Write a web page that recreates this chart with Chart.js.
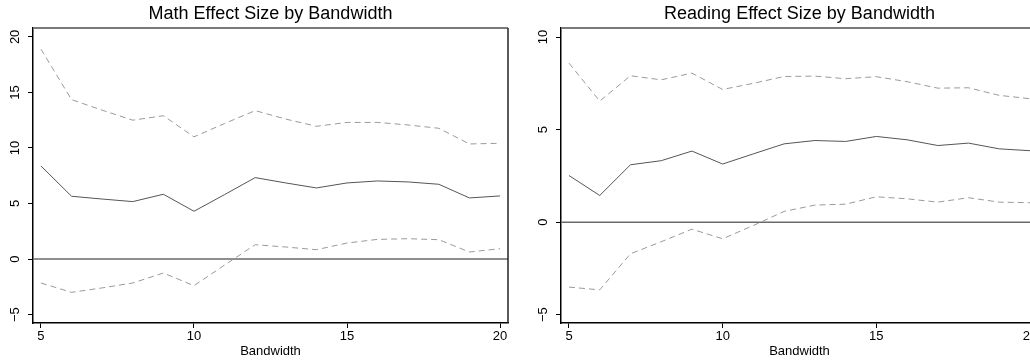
<!DOCTYPE html>
<html>
<head>
<meta charset="utf-8">
<script src="https://cdn.jsdelivr.net/npm/chart.js@4.4.1/dist/chart.umd.min.js"></script>
<style>
  html, body { margin: 0; padding: 0; background: #fff; overflow: hidden; width: 1030px; height: 364px; }
  canvas { position: absolute; top: 0; }
  #math-canvas { left: 0; }
  #read-canvas { left: 520px; }
</style>
</head>
<body>
<canvas id="math-canvas" width="520" height="364"></canvas>
<canvas id="read-canvas" width="530" height="364"></canvas>
<script>
const bandwidth = [5, 6, 7, 8, 9, 10, 11, 12, 13, 14, 15, 16, 17, 18, 19, 20];

const mathEst = [8.38, 5.65, 5.4, 5.17, 5.83, 4.3, 5.8, 7.33, 6.85, 6.4, 6.85, 7.03, 6.94, 6.73, 5.5, 5.68];
const mathHi = [18.9, 14.35, 13.4, 12.5, 12.9, 11.0, 12.2, 13.36, 12.6, 11.95, 12.3, 12.3, 12.07, 11.77, 10.36, 10.42];
const mathLo = [-2.16, -3.0, -2.6, -2.16, -1.26, -2.4, -0.54, 1.29, 1.08, 0.84, 1.44, 1.77, 1.83, 1.74, 0.63, 0.93];

const readEst = [2.52, 1.44, 3.1, 3.32, 3.84, 3.14, 3.69, 4.23, 4.41, 4.36, 4.63, 4.45, 4.14, 4.27, 3.96, 3.86];
const readHi = [8.59, 6.54, 7.91, 7.69, 8.05, 7.17, 7.5, 7.87, 7.89, 7.75, 7.86, 7.59, 7.24, 7.26, 6.85, 6.67];
const readLo = [-3.51, -3.66, -1.71, -1.06, -0.38, -0.9, -0.18, 0.58, 0.92, 0.97, 1.37, 1.26, 1.08, 1.32, 1.08, 1.05];

const xTicks = [5, 10, 15, 20];
const mathYTicks = [-5, 0, 5, 10, 15, 20];
const readYTicks = [-5, 0, 5, 10];

const FONT = '"Liberation Sans", Arial, Helvetica, sans-serif';

function points(values) {
  return bandwidth.map((b, i) => ({ x: b, y: values[i] }));
}

// zero line, plot frame, title and the rotated y labels (Stata look)
const stataDecor = {
  id: 'stataDecor',
  beforeDatasetsDraw(chart) {
    const { ctx, chartArea, scales } = chart;
    const y0 = scales.y.getPixelForValue(0);
    ctx.save();
    ctx.strokeStyle = '#6a6a6a';
    ctx.lineWidth = 1.5;
    ctx.beginPath();
    ctx.moveTo(chartArea.left, y0);
    ctx.lineTo(chartArea.right, y0);
    ctx.stroke();
    ctx.restore();
  },
  afterDraw(chart, args, opts) {
    const { ctx, chartArea, scales } = chart;
    ctx.save();
    ctx.strokeStyle = '#7a7a7a';
    ctx.lineWidth = 2;
    ctx.beginPath();
    ctx.moveTo(chartArea.left, chartArea.top);
    ctx.lineTo(chartArea.right, chartArea.top);
    ctx.stroke();
    ctx.strokeStyle = '#222';
    ctx.lineWidth = 1.5;
    ctx.beginPath();
    ctx.moveTo(chartArea.right, chartArea.top);
    ctx.lineTo(chartArea.right, chartArea.bottom);
    ctx.stroke();

    ctx.fillStyle = '#000';
    ctx.font = '18px ' + FONT;
    ctx.textAlign = 'center';
    ctx.textBaseline = 'alphabetic';
    ctx.fillText(opts.title, (chartArea.left + chartArea.right) / 2, 19);

    ctx.font = '13px ' + FONT;
    ctx.textBaseline = 'middle';
    opts.yTicks.forEach((v) => {
      const y = scales.y.getPixelForValue(v);
      ctx.save();
      ctx.translate(chartArea.left - 18, y);
      ctx.rotate(-Math.PI / 2);
      ctx.fillText(v < 0 ? '\u2212' + Math.abs(v) : String(v), 0, 0);
      ctx.restore();
    });
    ctx.restore();
  }
};

function makePanel(canvasId, title, est, hi, lo, yMin, yMax, yTicks, yWidth) {
  const canvas = document.getElementById(canvasId);
  const dashed = { borderColor: '#9a9a9a', borderWidth: 1, borderDash: [6, 4] };
  return new Chart(canvas, {
    type: 'line',
    data: {
      datasets: [
        { data: points(hi), ...dashed },
        { data: points(est), borderColor: '#555', borderWidth: 1 },
        { data: points(lo), ...dashed }
      ]
    },
    options: {
      responsive: false,
      animation: false,
      events: [],
      layout: { padding: { top: 28, right: 12, left: 0, bottom: 0 } },
      elements: { point: { radius: 0 }, line: { tension: 0 } },
      plugins: {
        legend: { display: false },
        tooltip: { enabled: false },
        title: { display: false },
        stataDecor: { title, yTicks }
      },
      scales: {
        x: {
          type: 'linear',
          min: 4.74,
          max: 20.26,
          afterBuildTicks: (s) => { s.ticks = xTicks.map((v) => ({ value: v })); },
          afterFit: (s) => { s.height = 41; },
          grid: { drawOnChartArea: false, drawTicks: true, tickLength: 5, color: '#000', lineWidth: 1 },
          border: { color: '#000', width: 1.5 },
          ticks: { color: '#000', padding: 1, maxRotation: 0, font: { family: FONT, size: 13 } },
          title: { display: true, text: 'Bandwidth', color: '#000', font: { family: FONT, size: 13 }, padding: { top: 0, bottom: 5 } }
        },
        y: {
          min: yMin,
          max: yMax,
          afterBuildTicks: (s) => { s.ticks = yTicks.map((v) => ({ value: v })); },
          afterFit: (s) => { s.width = yWidth; },
          grid: { drawOnChartArea: false, drawTicks: true, tickLength: 5, color: '#000', lineWidth: 1 },
          border: { color: '#000', width: 1.5 },
          ticks: { display: false }
        }
      }
    },
    plugins: [stataDecor]
  });
}

makePanel('math-canvas', 'Math Effect Size by Bandwidth', mathEst, mathHi, mathLo, -5.76, 20.8, mathYTicks, 33);
makePanel('read-canvas', 'Reading Effect Size by Bandwidth', readEst, readHi, readLo, -5.45, 10.49, readYTicks, 41);
</script>
</body>
</html>
